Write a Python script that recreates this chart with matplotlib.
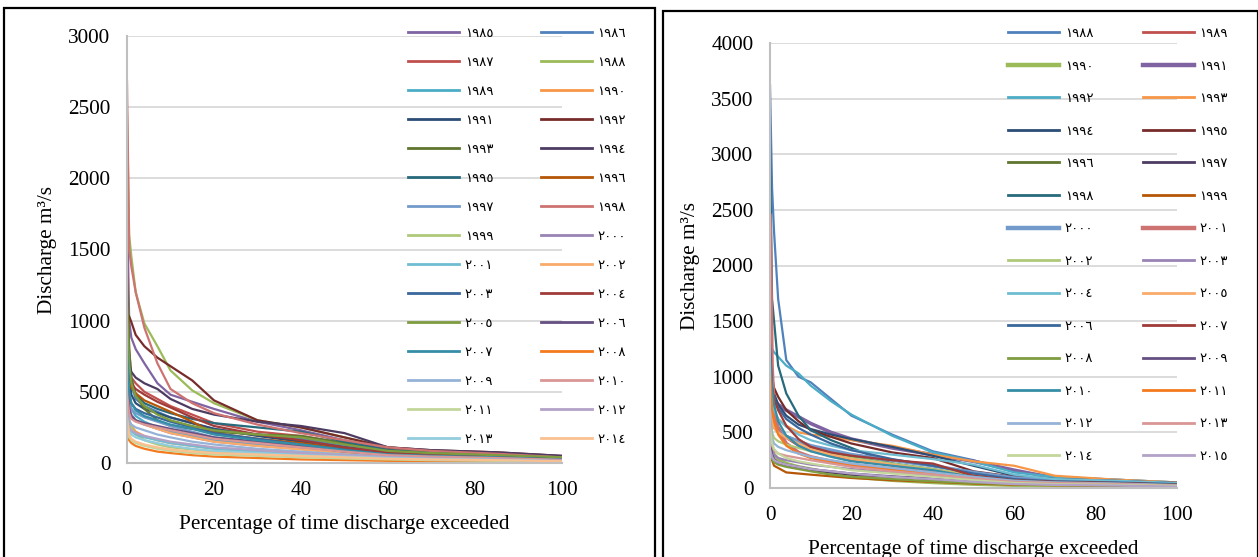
import matplotlib
matplotlib.use("Agg")
import matplotlib.pyplot as plt
from matplotlib.lines import Line2D
from matplotlib.patches import Rectangle

# ---------------- data ----------------
pct = [0, 0.5, 1, 2, 4, 7, 10, 15, 20, 30, 40, 50, 60, 70, 85, 100]

left_years = ["١٩٨٥", "١٩٨٦", "١٩٨٧", "١٩٨٨", "١٩٨٩", "١٩٩٠", "١٩٩١", "١٩٩٢", "١٩٩٣", "١٩٩٤",
              "١٩٩٥", "١٩٩٦", "١٩٩٧", "١٩٩٨", "١٩٩٩", "٢٠٠٠", "٢٠٠١", "٢٠٠٢", "٢٠٠٣", "٢٠٠٤",
              "٢٠٠٥", "٢٠٠٦", "٢٠٠٧", "٢٠٠٨", "٢٠٠٩", "٢٠١٠", "٢٠١١", "٢٠١٢", "٢٠١٣", "٢٠١٤"]
left_q = [
    [1850, 1000, 880, 800, 700, 560, 480, 430, 380, 290, 230, 160, 100, 80, 60, 35],
    [1200, 700, 550, 450, 400, 360, 320, 280, 240, 200, 170, 120, 80, 60, 45, 25],
    [1400, 800, 600, 560, 500, 450, 400, 340, 280, 220, 190, 140, 90, 70, 55, 35],
    [2450, 1600, 1450, 1200, 980, 820, 650, 510, 420, 300, 250, 180, 110, 85, 70, 45],
    [700, 450, 380, 330, 290, 250, 220, 190, 160, 130, 100, 70, 50, 40, 30, 20],
    [380, 300, 260, 220, 190, 160, 140, 120, 100, 80, 65, 50, 40, 32, 25, 15],
    [900, 600, 480, 420, 380, 350, 320, 280, 240, 190, 150, 110, 75, 60, 45, 30],
    [1050, 1030, 990, 900, 820, 740, 680, 580, 440, 300, 250, 180, 110, 90, 75, 50],
    [1300, 800, 600, 480, 380, 300, 260, 240, 220, 200, 190, 140, 90, 75, 60, 45],
    [900, 700, 640, 600, 560, 520, 450, 380, 340, 290, 260, 210, 110, 90, 75, 50],
    [1000, 700, 560, 480, 420, 380, 350, 310, 280, 250, 220, 150, 90, 70, 55, 40],
    [800, 600, 530, 490, 440, 400, 360, 290, 210, 170, 140, 100, 70, 55, 45, 30],
    [600, 420, 380, 350, 320, 290, 260, 220, 180, 140, 110, 80, 55, 45, 35, 20],
    [2680, 1500, 1380, 1200, 950, 700, 520, 420, 350, 270, 210, 160, 110, 85, 65, 40],
    [500, 300, 250, 200, 160, 130, 110, 95, 80, 65, 55, 45, 35, 30, 22, 15],
    [700, 400, 340, 300, 270, 240, 210, 180, 150, 120, 100, 75, 55, 45, 35, 25],
    [400, 250, 220, 200, 180, 160, 140, 120, 100, 80, 65, 50, 40, 32, 25, 15],
    [500, 350, 320, 300, 270, 240, 210, 180, 150, 120, 95, 70, 50, 40, 30, 20],
    [700, 480, 420, 380, 350, 320, 290, 250, 210, 170, 130, 95, 65, 50, 40, 25],
    [900, 600, 560, 520, 480, 430, 390, 320, 260, 200, 160, 110, 75, 60, 45, 30],
    [1100, 700, 560, 470, 400, 340, 300, 260, 230, 200, 180, 130, 85, 70, 55, 40],
    [600, 380, 330, 300, 280, 260, 240, 210, 180, 150, 120, 80, 55, 45, 35, 25],
    [800, 500, 420, 370, 330, 300, 270, 240, 200, 160, 130, 90, 60, 50, 40, 25],
    [200, 160, 140, 120, 100, 80, 70, 55, 45, 35, 25, 20, 15, 12, 10, 5],
    [400, 300, 270, 250, 230, 200, 180, 150, 130, 100, 80, 60, 45, 35, 28, 18],
    [500, 350, 310, 290, 270, 250, 230, 200, 170, 140, 110, 80, 55, 45, 35, 22],
    [250, 180, 160, 140, 120, 100, 85, 70, 60, 50, 40, 32, 25, 20, 15, 10],
    [350, 250, 230, 210, 190, 170, 150, 130, 110, 90, 70, 55, 40, 32, 25, 15],
    [300, 220, 200, 180, 160, 140, 120, 100, 85, 70, 55, 45, 35, 28, 22, 12],
    [320, 200, 170, 150, 130, 110, 95, 80, 70, 60, 50, 40, 30, 25, 20, 12],
]
left_colors = ["#8064A2", "#4F81BD", "#C0504D", "#9BBB59", "#4BACC6", "#F79646",
               "#2C4D75", "#772C2A", "#5F7530", "#4D3B62", "#276A7C", "#B65708",
               "#729ACA", "#CD7371", "#AFC97A", "#9983B5", "#6FBDD1", "#F9AB6B",
               "#3A679C", "#9F3B38", "#7E9D40", "#664F82", "#358EA6", "#F47A1F",
               "#95B3D7", "#D99694", "#C3D69B", "#B3A2C7", "#93CDDD", "#FAC090"]

right_years = ["١٩٨٨", "١٩٨٩", "١٩٩٠", "١٩٩١", "١٩٩٢", "١٩٩٣", "١٩٩٤", "١٩٩٥", "١٩٩٦", "١٩٩٧",
               "١٩٩٨", "١٩٩٩", "٢٠٠٠", "٢٠٠١", "٢٠٠٢", "٢٠٠٣", "٢٠٠٤", "٢٠٠٥", "٢٠٠٦", "٢٠٠٧",
               "٢٠٠٨", "٢٠٠٩", "٢٠١٠", "٢٠١١", "٢٠١٢", "٢٠١٣", "٢٠١٤", "٢٠١٥"]
right_q = [
    [3620, 2700, 2300, 1700, 1150, 1000, 950, 800, 650, 480, 330, 250, 150, 100, 75, 50],
    [1500, 900, 700, 550, 450, 380, 340, 290, 250, 200, 150, 100, 70, 55, 45, 30],
    [650, 350, 300, 260, 220, 190, 170, 130, 100, 70, 50, 35, 25, 20, 15, 10],
    [1300, 900, 800, 750, 700, 640, 580, 500, 440, 360, 300, 240, 160, 90, 60, 35],
    [1200, 1250, 1220, 1180, 1100, 1030, 920, 780, 660, 470, 320, 240, 140, 100, 75, 50],
    [1000, 800, 700, 620, 560, 500, 480, 460, 430, 380, 300, 240, 200, 110, 75, 50],
    [1500, 1000, 850, 750, 650, 570, 530, 480, 440, 370, 290, 200, 110, 80, 65, 45],
    [1400, 1000, 900, 820, 700, 600, 520, 460, 400, 320, 270, 150, 100, 75, 60, 45],
    [900, 600, 540, 500, 470, 420, 370, 320, 280, 220, 170, 110, 70, 55, 45, 30],
    [500, 300, 250, 220, 200, 180, 160, 140, 120, 100, 80, 60, 45, 35, 28, 18],
    [3080, 1700, 1500, 1100, 850, 650, 520, 430, 360, 220, 160, 120, 80, 60, 50, 35],
    [400, 250, 200, 180, 140, 130, 120, 105, 90, 70, 55, 40, 30, 25, 20, 12],
    [1000, 700, 600, 520, 460, 420, 380, 340, 300, 250, 200, 140, 90, 70, 55, 35],
    [2450, 1100, 700, 520, 400, 320, 280, 240, 210, 170, 130, 90, 60, 45, 35, 22],
    [700, 500, 450, 420, 390, 360, 330, 300, 270, 220, 170, 120, 70, 55, 40, 25],
    [600, 350, 300, 270, 250, 230, 210, 190, 170, 140, 110, 80, 55, 45, 35, 20],
    [1100, 800, 700, 620, 550, 480, 430, 380, 340, 300, 260, 210, 120, 80, 65, 45],
    [800, 600, 540, 500, 450, 400, 350, 300, 260, 210, 160, 110, 70, 55, 45, 30],
    [1300, 900, 800, 720, 620, 540, 480, 400, 340, 260, 200, 130, 80, 60, 50, 35],
    [1200, 900, 800, 700, 560, 440, 370, 320, 290, 250, 220, 110, 70, 55, 45, 30],
    [400, 260, 230, 210, 190, 170, 150, 120, 100, 80, 60, 45, 35, 28, 22, 14],
    [450, 300, 260, 230, 210, 190, 170, 150, 130, 105, 85, 60, 45, 35, 28, 18],
    [1200, 900, 750, 600, 470, 380, 330, 280, 240, 200, 160, 100, 65, 50, 40, 28],
    [1050, 700, 600, 480, 380, 310, 270, 230, 200, 160, 130, 90, 60, 45, 35, 22],
    [700, 450, 400, 370, 340, 310, 280, 250, 220, 180, 140, 100, 65, 50, 40, 25],
    [600, 380, 340, 310, 290, 270, 250, 220, 190, 150, 120, 85, 55, 45, 35, 22],
    [550, 400, 350, 310, 270, 240, 220, 190, 160, 130, 100, 70, 45, 35, 28, 18],
    [350, 280, 250, 230, 210, 190, 170, 150, 130, 100, 80, 55, 35, 28, 22, 12],
]
right_colors = ["#4F81BD", "#C0504D", "#9BBB59", "#8064A2", "#4BACC6", "#F79646",
                "#2C4D75", "#772C2A", "#5F7530", "#4D3B62", "#276A7C", "#B65708",
                "#729ACA", "#CD7371", "#AFC97A", "#9983B5", "#6FBDD1", "#F9AB6B",
                "#3A679C", "#9F3B38", "#7E9D40", "#664F82", "#358EA6", "#F47A1F",
                "#95B3D7", "#D99694", "#C3D69B", "#B3A2C7"]
right_thick = ["١٩٩٠", "١٩٩١", "٢٠٠٠", "٢٠٠١"]

xticks = [0, 20, 40, 60, 80, 100]
left_yticks = [0, 500, 1000, 1500, 2000, 2500, 3000]
right_yticks = [0, 500, 1000, 1500, 2000, 2500, 3000, 3500, 4000]
xlabel = "Percentage of time discharge exceeded"
ylabel = "Discharge m³/s"

# ---------------- figure ----------------
W, H = 1258, 557
fig = plt.figure(figsize=(W / 100, H / 100), dpi=100)
SERIF = "Liberation Serif"
LEGFONT = {"family": "DejaVu Sans", "size": 9.5}


def px_axes(x0, x1, y_top, y_bot):
    return fig.add_axes([x0 / W, (H - y_bot) / H, (x1 - x0) / W, (y_bot - y_top) / H])


def style(ax, yticks, ymax):
    ax.set_xlim(0, 100)
    ax.set_ylim(0, ymax)
    ax.set_xticks(xticks)
    ax.set_yticks(yticks)
    ax.grid(axis="y", color="#D9D9D9", linewidth=1.3)
    ax.set_axisbelow(True)
    for s in ["top", "right"]:
        ax.spines[s].set_visible(False)
    for s in ["left", "bottom"]:
        ax.spines[s].set_color("#BFBFBF")
        ax.spines[s].set_linewidth(1.5)
    ax.tick_params(axis="both", length=0, labelsize=15.3)
    ax.tick_params(axis="y", pad=12)
    ax.tick_params(axis="x", pad=13)
    for lab in ax.get_xticklabels() + ax.get_yticklabels():
        lab.set_fontfamily(SERIF)
    ax.set_xlabel(xlabel, fontsize=15.3, fontfamily=SERIF, labelpad=10)
    ax.set_ylabel(ylabel, fontsize=15.3, fontfamily=SERIF, labelpad=8)


def reorder(items, ncol=2):
    return [items[i] for i in range(0, len(items), ncol)] + [items[i] for i in range(1, len(items), ncol)]


# Left panel
axL = px_axes(127, 562, 36, 463)
style(axL, left_yticks, 3000)
handlesL = []
for yr, q, c in zip(left_years, left_q, left_colors):
    axL.plot(pct, q, color=c, linewidth=1.6, solid_joinstyle="round")
    handlesL.append(Line2D([], [], color=c, linewidth=2.0, label=yr))
legL = axL.legend(handles=reorder(handlesL), ncol=2, frameon=False,
                  loc="upper left", bbox_to_anchor=(408 / W, (H - 27) / H),
                  bbox_transform=fig.transFigure, prop=LEGFONT,
                  handlelength=3.9, handletextpad=0.4, columnspacing=3.6,
                  labelspacing=1.21, borderaxespad=0, borderpad=0)

# Right panel
axR = px_axes(770, 1177, 43, 488)
style(axR, right_yticks, 4000)
handlesR = []
for yr, q, c in zip(right_years, right_q, right_colors):
    lw = 2.6 if yr in right_thick else 1.6
    axR.plot(pct, q, color=c, linewidth=lw, solid_joinstyle="round")
    handlesR.append(Line2D([], [], color=c, linewidth=(3.2 if yr in right_thick else 2.0), label=yr))
legR = axR.legend(handles=reorder(handlesR), ncol=2, frameon=False,
                  loc="upper left", bbox_to_anchor=(1008 / W, (H - 27) / H),
                  bbox_transform=fig.transFigure, prop=LEGFONT,
                  handlelength=3.9, handletextpad=0.4, columnspacing=3.75,
                  labelspacing=1.48, borderaxespad=0, borderpad=0)

# Panel borders
fig.add_artist(Rectangle((4 / W, -0.02), (655 - 4) / W, (H - 8) / H + 0.02,
                         transform=fig.transFigure, fill=False, edgecolor="black", linewidth=1.6))
fig.add_artist(Rectangle((663 / W, -0.02), (1257.5 - 663) / W, (H - 11) / H + 0.02,
                         transform=fig.transFigure, fill=False, edgecolor="black", linewidth=1.6))

fig.savefig("out.png", dpi=100)
